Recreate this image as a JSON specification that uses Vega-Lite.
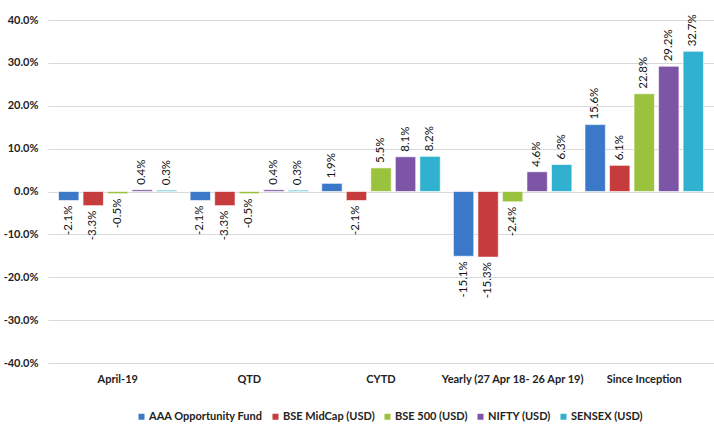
{
  "$schema": "https://vega.github.io/schema/vega-lite/v6.json",
  "width": 666,
  "height": 343,
  "autosize": "none",
  "padding": {"top": 20, "left": 48, "right": 0, "bottom": 61},
  "config": {"view": {"stroke": null}, "font": "Lato", "locale": {"number": {"decimal": ".", "thousands": ",", "grouping": [3], "currency": ["$", ""], "minus": "-"}}},
  "data": {"values": [
    {"period": "April-19", "series": "AAA Opportunity Fund", "value": -0.021},
    {"period": "April-19", "series": "BSE MidCap (USD)", "value": -0.033},
    {"period": "April-19", "series": "BSE 500 (USD)", "value": -0.005},
    {"period": "April-19", "series": "NIFTY (USD)", "value": 0.004},
    {"period": "April-19", "series": "SENSEX (USD)", "value": 0.003},
    {"period": "QTD", "series": "AAA Opportunity Fund", "value": -0.021},
    {"period": "QTD", "series": "BSE MidCap (USD)", "value": -0.033},
    {"period": "QTD", "series": "BSE 500 (USD)", "value": -0.005},
    {"period": "QTD", "series": "NIFTY (USD)", "value": 0.004},
    {"period": "QTD", "series": "SENSEX (USD)", "value": 0.003},
    {"period": "CYTD", "series": "AAA Opportunity Fund", "value": 0.019},
    {"period": "CYTD", "series": "BSE MidCap (USD)", "value": -0.021},
    {"period": "CYTD", "series": "BSE 500 (USD)", "value": 0.055},
    {"period": "CYTD", "series": "NIFTY (USD)", "value": 0.081},
    {"period": "CYTD", "series": "SENSEX (USD)", "value": 0.082},
    {"period": "Yearly (27 Apr 18- 26 Apr 19)", "series": "AAA Opportunity Fund", "value": -0.151},
    {"period": "Yearly (27 Apr 18- 26 Apr 19)", "series": "BSE MidCap (USD)", "value": -0.153},
    {"period": "Yearly (27 Apr 18- 26 Apr 19)", "series": "BSE 500 (USD)", "value": -0.024},
    {"period": "Yearly (27 Apr 18- 26 Apr 19)", "series": "NIFTY (USD)", "value": 0.046},
    {"period": "Yearly (27 Apr 18- 26 Apr 19)", "series": "SENSEX (USD)", "value": 0.063},
    {"period": "Since Inception", "series": "AAA Opportunity Fund", "value": 0.156},
    {"period": "Since Inception", "series": "BSE MidCap (USD)", "value": 0.061},
    {"period": "Since Inception", "series": "BSE 500 (USD)", "value": 0.228},
    {"period": "Since Inception", "series": "NIFTY (USD)", "value": 0.292},
    {"period": "Since Inception", "series": "SENSEX (USD)", "value": 0.327}
  ]},
  "encoding": {
    "x": {
      "field": "period", "type": "nominal",
      "sort": ["April-19", "QTD", "CYTD", "Yearly (27 Apr 18- 26 Apr 19)", "Since Inception"],
      "scale": {"paddingInner": 0.1, "paddingOuter": 0.08},
      "axis": {"title": null, "labelAngle": 0, "ticks": false, "domain": false, "labelFontWeight": "bold", "labelFontSize": 11, "labelColor": "#222222", "labelPadding": 10}
    },
    "xOffset": {
      "field": "series", "type": "nominal",
      "sort": ["AAA Opportunity Fund", "BSE MidCap (USD)", "BSE 500 (USD)", "NIFTY (USD)", "SENSEX (USD)"],
      "scale": {"paddingInner": 0.17, "paddingOuter": 0}
    },
    "y": {
      "field": "value", "type": "quantitative",
      "scale": {"domain": [-0.4, 0.4], "nice": false},
      "axis": {"title": null, "format": ".1%", "values": [-0.4, -0.3, -0.2, -0.1, 0, 0.1, 0.2, 0.3, 0.4], "domain": false, "ticks": false, "gridColor": "#d9d9d9", "labelFontWeight": "bold", "labelFontSize": 11, "labelColor": "#222222", "labelPadding": 10}
    }
  },
  "layer": [
    {
      "mark": {"type": "bar", "strokeWidth": 0.6},
      "encoding": {
        "color": {
          "field": "series", "type": "nominal",
          "sort": ["AAA Opportunity Fund", "BSE MidCap (USD)", "BSE 500 (USD)", "NIFTY (USD)", "SENSEX (USD)"],
          "scale": {"domain": ["AAA Opportunity Fund", "BSE MidCap (USD)", "BSE 500 (USD)", "NIFTY (USD)", "SENSEX (USD)"], "range": ["#3b78c8", "#c63b3b", "#9ac23c", "#7d55a6", "#2fb1cf"]},
          "legend": {"title": null, "orient": "none", "legendX": 88, "legendY": 391, "direction": "horizontal", "symbolType": "square", "symbolSize": 36, "symbolOffset": 0, "labelOffset": 2, "labelFontSize": 11, "labelFontWeight": "bold", "labelColor": "#222222", "columnPadding": 7, "symbolStrokeWidth": 0}
        },
        "stroke": {"value": "#ffffff"}
      }
    },
    {
      "transform": [{"filter": "datum.value >= 0"}],
      "mark": {"type": "text", "angle": 270, "align": "left", "baseline": "middle", "dx": 5, "fontSize": 11.5, "color": "#111111"},
      "encoding": {"text": {"field": "value", "type": "quantitative", "format": ".1%"}}
    },
    {
      "transform": [{"filter": "datum.value < 0"}],
      "mark": {"type": "text", "angle": 270, "align": "right", "baseline": "middle", "dx": -5, "fontSize": 11.5, "color": "#111111"},
      "encoding": {"text": {"field": "value", "type": "quantitative", "format": ".1%"}}
    }
  ]
}
